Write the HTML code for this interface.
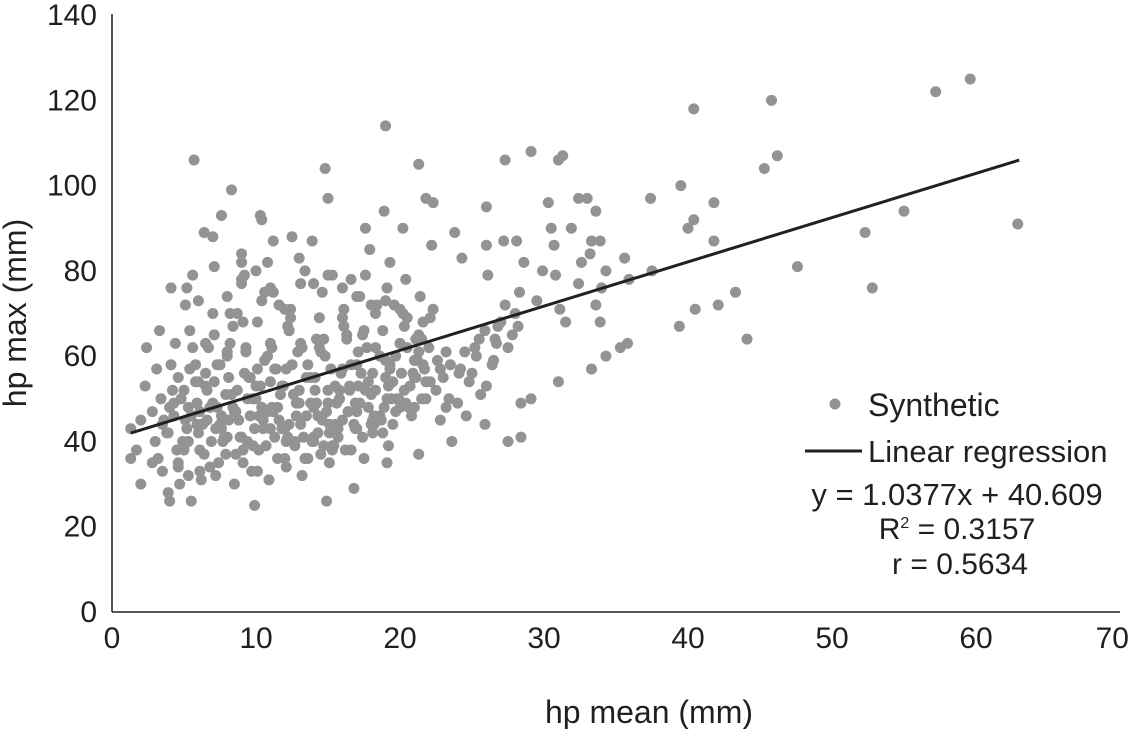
<!DOCTYPE html>
<html><head><meta charset="utf-8"><style>
html,body{margin:0;padding:0;background:#fff;}
svg{display:block;font-family:"Liberation Sans",Arial,sans-serif;}
</style></head><body>
<svg id="chart" width="1130" height="729">
<g id="axes"></g>
<g id="points"></g>
<g id="reg"></g>
<g id="legend"></g>
</svg>
<script>
const xTicks=[0,10,20,30,40,50,60,70];
const yTicks=[0,20,40,60,80,100,120,140];
const xTitle="hp mean (mm)";
const yTitle="hp max (mm)";
const slope=1.0377, intercept=40.609, r2="0.3157", rVal="0.5634";
const regRange=[1.3,63];
const ptX=[5.7,19,14.8,21.3,8.3,10.3,10.4,15,21.8,22.3,27.3,29.1,31,31.3,33,30.3,32.4,26,40.4,45.8,46.2,57.2,59.6,45.3,39.5,37.4,40,40.4,41.8,41.8,52.3,55,47.6,62.9,52.8,43.3,42.1,40.5,39.4,44.1,35.8,35.3,34.3,33.3,31,14.9,4,5.5,9.9,16.8,2,1.3,1.3,25.9,27.5,28.4,23.6,21.3,28.4,29.1,33.6,33.9,33.3,34.3,35.9,37.5,31.1,31.5,32.4,32.6,30.8,29.9,28.6,30.5,30.7,31.9,33.2,34,35.6,33.6,33.9,26.8,28.3,29.5,26,27.2,28.1,23.8,26.1,22.2,24.3,20.2,17.6,18.9,17.9,19.3,13.9,12.5,11.2,9,9.2,10.8,7.6,6.4,5.6,5.2,4.1,3.3,2.4,3.1,2.3,2.8,2,1.7,2.8,3.5,4.6,5.3,
3,3.5,4,4.5,5,5.5,6,6.5,7,7.5,8,8.5,9,9.5,10,10.5,11,11.5,12,12.5,13,13.5,14,14.5,15,15.5,16,16.5,17,17.5,18,18.5,19,19.5,20,20.5,21,21.5,22,
3.2,3.8,4.3,4.8,5.3,5.8,6.3,6.8,7.3,7.8,8.3,8.8,9.3,9.8,10.3,10.8,11.3,11.8,12.3,12.8,13.3,13.8,14.3,14.8,15.3,15.8,16.3,16.8,17.3,17.8,18.3,18.8,19.3,19.8,20.3,20.8,21.3,21.8,22.3,22.8,
3.4,4.1,4.6,5.1,5.6,6.1,6.6,7.1,7.6,8.1,8.6,9.1,9.6,10.1,10.6,11.1,11.6,12.1,12.6,13.1,13.6,14.1,14.6,15.1,15.6,16.1,16.6,17.1,17.6,18.1,18.6,19.1,19.6,20.1,20.6,21.1,21.6,22.1,
4.4,5,5.4,6,6.6,7,7.4,8,8.4,9,9.4,10,10.4,11,11.4,12,12.4,13,13.4,14,14.4,15,15.4,16,16.4,17,17.4,18,18.4,19,19.4,20,20.4,21,21.4,
6.2,6.8,7.2,7.9,8.5,9.1,9.7,10.2,10.9,11.5,12.1,12.7,13.2,13.9,14.5,15.1,15.7,16.2,16.9,17.5,18.1,18.7,19.2,
5.1,6,7.1,8.2,9,10.1,11.2,12.3,13.1,14.2,15.3,16.1,17.2,18.3,19.1,20.2,21.3,
22.5,23,23.5,24,24.5,25,25.5,26,26.5,27,27.5,28,22.8,23.4,24.2,24.8,25.3,25.9,26.7,27.3,28.2,23.2,24.6,25.6,26.4,27.8,
7,9,11,13,15,17,19,8,10,12,14,16,18,6.5,8.7,10.6,12.2,14.4,16.6,18.2,4.7,6.1,3.9,5.9,7.7,
3.6,4.2,4.9,5.4,6.1,6.7,7.2,7.9,8.4,9.1,9.6,10.2,10.8,11.3,11.9,12.4,13.1,13.6,14.2,14.7,15.3,15.9,16.4,17.1,17.6,18.2,18.8,19.3,19.9,20.5,21.1,21.6,
4.3,5.2,5.8,6.4,7.1,7.6,8.2,8.9,9.4,10.1,10.7,11.2,11.8,12.3,12.9,13.4,14.1,14.6,15.2,15.7,16.3,16.9,17.4,18.1,18.6,19.2,19.7,20.4,20.9,21.5,22.1,22.6,
3.9,4.6,5.3,6.2,6.9,7.5,8.1,8.7,9.3,9.9,10.4,11,11.6,12.1,12.7,13.2,13.8,14.3,14.9,15.5,16,16.6,17.2,17.7,18.3,18.9,19.5,20,20.7,21.2,21.8,23.2,
5,5.9,6.5,7.3,8,8.6,9.2,9.8,10.5,11.1,11.7,12.2,12.8,13.5,14,14.7,15.1,15.8,16.5,17,17.8,18.4,19.1,19.7,20.3,21,21.7,24.1,25.2,26.6];
const ptY=[106,114,104,105,99,93,92,97,97,96,106,108,106,107,97,96,97,95,118,120,107,122,125,104,100,97,90,92,96,87,89,94,81,91,76,75,72,71,67,64,63,62,60,57,54,26,26,26,25,29,30,43,36,44,40,41,40,37,49,50,94,87,87,80,78,80,71,68,77,82,79,80,82,90,86,90,84,76,83,72,68,67,75,73,86,87,87,89,79,86,83,90,90,94,85,82,87,88,87,84,79,82,93,89,79,76,76,66,62,57,53,47,45,38,35,33,34,32,
40,44,48,38,52,46,42,56,49,44,60,47,41,55,50,45,63,48,43,58,52,46,40,61,49,44,57,53,47,66,51,45,59,54,48,69,55,50,62,
36,42,46,50,40,54,44,48,58,41,51,45,62,39,53,47,57,43,66,49,41,55,46,60,38,52,64,44,56,48,70,42,58,50,67,46,61,54,71,57,
50,58,35,45,62,38,52,65,43,55,37,68,46,33,59,48,72,40,51,63,36,55,75,42,49,67,38,53,79,45,60,35,72,56,48,64,58,69,
63,39,66,54,45,70,35,61,48,77,40,53,73,43,57,36,69,49,80,41,62,52,39,76,47,58,65,44,72,55,50,63,78,59,74,
31,34,32,37,30,35,33,38,31,36,34,39,32,40,37,35,41,38,43,36,42,45,39,
72,73,81,70,78,68,75,66,77,64,79,71,74,62,76,70,65,
52,55,58,49,61,56,64,53,59,68,62,70,45,50,57,54,60,66,63,72,67,48,46,51,58,65,
88,82,76,83,79,74,73,74,80,71,77,69,72,63,70,75,67,69,78,46,30,33,28,44,40,
45,52,40,57,47,62,43,51,67,38,55,46,60,41,53,71,44,58,49,64,39,56,47,61,52,44,66,57,50,62,55,68,
49,43,58,37,54,46,63,41,50,57,39,47,53,44,61,36,52,45,57,43,65,49,41,56,46,53,60,49,56,64,54,59,
42,55,48,44,40,58,45,52,61,43,48,54,45,57,40,62,49,42,47,53,45,58,49,62,52,48,44,71,53,59,50,61,
38,49,53,48,41,47,56,50,43,62,51,41,46,55,48,39,44,50,52,43,54,45,50,47,52,48,57,56,62,64];
const X0=112,PX=14.4,Y0=612,PY=4.264;
const sx=v=>X0+v*PX, sy=v=>Y0-v*PY;
const NS="http://www.w3.org/2000/svg";
function mk(t,a,p){const e=document.createElementNS(NS,t);for(const k in a)e.setAttribute(k,a[k]);p.appendChild(e);return e;}
const ax=document.getElementById('axes');
let l=mk('line',{x1:X0,y1:14,x2:X0,y2:Y0,stroke:'#231f20','stroke-width':1.5},ax);


l=mk('line',{x1:X0,y1:Y0,x2:1120,y2:Y0,stroke:'#231f20','stroke-width':1.5},ax);


xTicks.forEach(v=>{let xx=sx(v),anc='middle';if(xx>1100){xx=1129;anc='end';}
const t=mk('text',{x:xx,y:648,'text-anchor':anc,'font-size':30,fill:'#231f20'},ax);t.textContent=v;

});
yTicks.forEach(v=>{const t=mk('text',{x:97,y:sy(v)+10,'text-anchor':'end','font-size':30,fill:'#231f20'},ax);t.textContent=v;

});
let t=mk('text',{x:649,y:723,'text-anchor':'middle','font-size':32,fill:'#231f20'},ax);t.textContent=xTitle;


t=mk('text',{x:0,y:0,'text-anchor':'middle','font-size':32,fill:'#231f20',transform:'translate(26,313) rotate(-90)'},ax);t.textContent=yTitle;


const pg=document.getElementById('points');
const n=Math.min(ptX.length,ptY.length);
for(let i=0;i<n;i++){const c=mk('circle',{cx:sx(ptX[i]),cy:sy(ptY[i]),r:5.5,fill:'#939393'},pg);

}
const rg=document.getElementById('reg');
l=mk('line',{x1:sx(regRange[0]),y1:sy(slope*regRange[0]+intercept),x2:sx(regRange[1]),y2:sy(slope*regRange[1]+intercept),stroke:'#231f20','stroke-width':3},rg);


const lg=document.getElementById('legend');
let c=mk('circle',{cx:835,cy:404,r:5.5,fill:'#939393'},lg);


t=mk('text',{x:868,y:416,'font-size':32,fill:'#231f20'},lg);t.textContent="Synthetic";


l=mk('line',{x1:805,y1:451,x2:862,y2:451,stroke:'#231f20','stroke-width':3},lg);


t=mk('text',{x:868,y:462,'font-size':31,fill:'#231f20'},lg);t.textContent="Linear regression";


t=mk('text',{x:957,y:505,'text-anchor':'middle','font-size':31,fill:'#231f20'},lg);t.textContent="y = "+slope+"x + "+intercept;


t=mk('text',{x:957,y:539,'text-anchor':'middle','font-size':30,fill:'#231f20'},lg);
t.innerHTML='R<tspan font-size="16" dy="-11">2</tspan><tspan dy="11"> = '+r2+'</tspan>';


t=mk('text',{x:960,y:574,'text-anchor':'middle','font-size':30,fill:'#231f20'},lg);t.textContent="r = "+rVal;


</script>
</body></html>
